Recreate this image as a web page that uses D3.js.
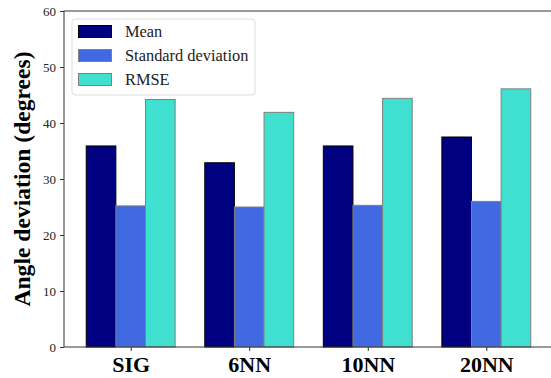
<!DOCTYPE html>
<html>
<head>
<meta charset="utf-8">
<script src="https://cdn.jsdelivr.net/npm/d3@7"></script>
<style>
  body { margin: 0; background: #fff; }
  svg { display: block; font-family: "Liberation Serif", "Times New Roman", serif; }
</style>
</head>
<body>
<div class="js-vis"></div>
<script>
"use strict";

var categories = ["SIG", "6NN", "10NN", "20NN"];
var seriesNames = ["Mean", "Standard deviation", "RMSE"];
var meanValues = [35.9, 32.9, 35.9, 37.5];
var stdValues = [25.2, 25.0, 25.3, 26.0];
var rmseValues = [44.2, 41.9, 44.4, 46.1];
var yTicks = [0, 10, 20, 30, 40, 50, 60];

var colors = ["#000080", "#4169e1", "#40e0d0"];
var edges = ["#000000", "#808080", "#808080"];
var series = [meanValues, stdValues, rmseValues];

var W = 551, H = 378;
var margin = { top: 11, right: -2, bottom: 31, left: 64 },
    width = W - margin.left - margin.right,
    height = H - margin.top - margin.bottom;

var svg = d3.select(".js-vis").append("svg").attr("width", W).attr("height", H);
var vis = svg.append("g").attr("transform", "translate(" + margin.left + "," + margin.top + ")");

var barW = 0.25;
// matplotlib-like x limits: bars span -0.375..3.375, plus 5% margins
var x = d3.scaleLinear().domain([-0.5625, 3.5625]).range([0, width]);
var y = d3.scaleLinear().domain([0, 60]).range([height, 0]);

// bars
series.forEach(function (vals, s) {
  vis.append("g").selectAll("rect").data(vals).enter().append("rect")
    .attr("x", function (d, i) { return x(i + (s - 1.5) * barW); })
    .attr("width", x(barW) - x(0))
    .attr("y", function (d) { return y(d); })
    .attr("height", function (d) { return y(0) - y(d); })
    .attr("fill", colors[s])
    .attr("stroke", edges[s])
    .attr("stroke-width", 1);
});

// frame
vis.append("rect").attr("x", 0).attr("y", 0).attr("width", width).attr("height", height)
  .attr("fill", "none").attr("stroke", "#333").attr("stroke-width", 1);

// y axis
var yax = vis.append("g").call(d3.axisLeft(y).tickValues(yTicks).tickSize(4).tickPadding(4));
yax.select(".domain").remove();
yax.selectAll("line").attr("stroke", "#333");
yax.selectAll("text").attr("font-family", "Liberation Serif").attr("font-size", 13).attr("fill", "#222");

// x axis
var xax = vis.append("g").attr("transform", "translate(0," + height + ")")
  .call(d3.axisBottom(x).tickValues(d3.range(categories.length)).tickFormat(function (d) { return categories[d]; }).tickSize(4).tickPadding(5));
xax.select(".domain").remove();
xax.selectAll("line").attr("stroke", "#333");
xax.selectAll("text").attr("font-family", "Liberation Serif").attr("font-size", 22).attr("font-weight", "bold").attr("fill", "#000");

// y label
svg.append("text")
  .attr("transform", "translate(30," + (margin.top + height / 2) + ") rotate(-90)")
  .attr("text-anchor", "middle")
  .attr("font-size", 23.6).attr("font-weight", "bold")
  .text("Angle deviation (degrees)");

// legend
var lg = svg.append("g").attr("transform", "translate(72,19)");
lg.append("rect").attr("width", 183).attr("height", 76).attr("rx", 3)
  .attr("fill", "#fff").attr("fill-opacity", 0.8).attr("stroke", "#ddd");
seriesNames.forEach(function (name, s) {
  var row = lg.append("g").attr("transform", "translate(0," + (6 + s * 24) + ")");
  row.append("rect").attr("x", 6.5).attr("y", 0.5).attr("width", 33).attr("height", 12)
    .attr("fill", colors[s]).attr("stroke", edges[s]);
  row.append("text").attr("x", 53).attr("y", 11.5).attr("font-size", 16.4).attr("fill", "#222").text(name);
});
</script>
</body>
</html>
